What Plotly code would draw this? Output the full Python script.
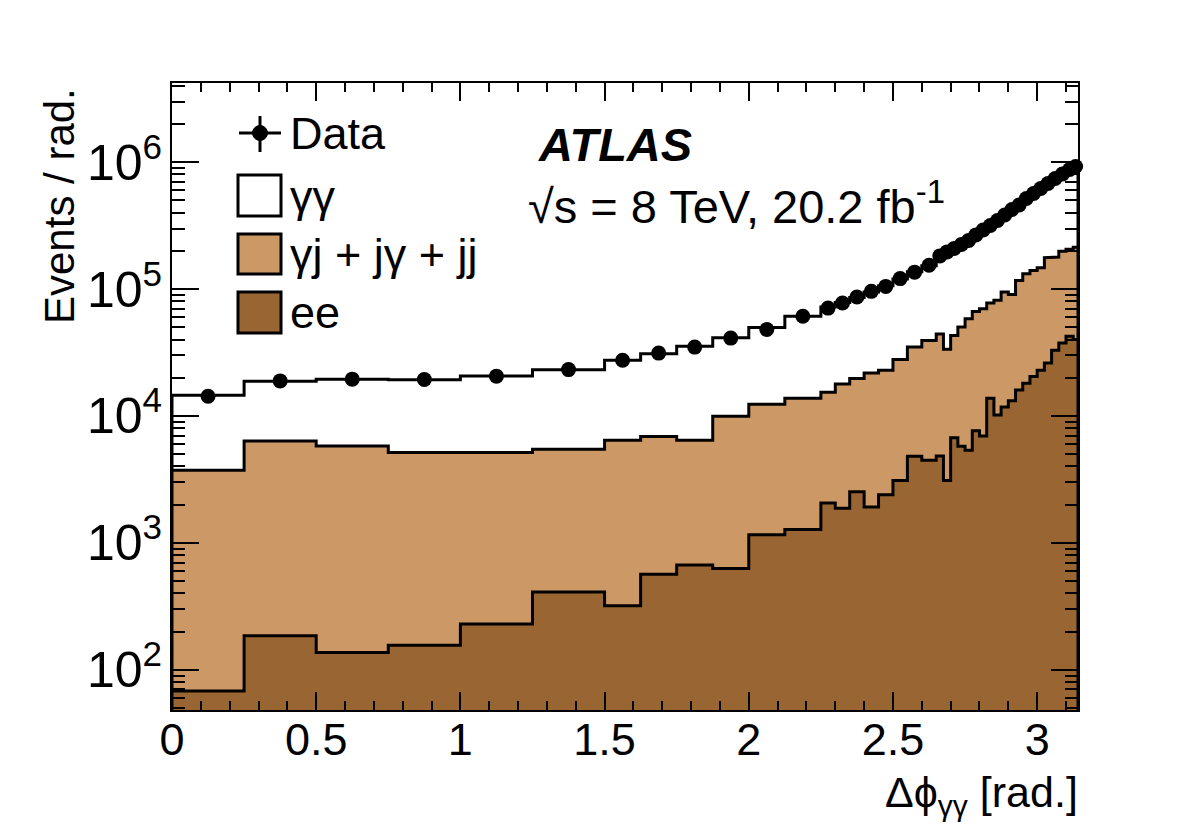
import plotly.graph_objects as go
import math

# ---------------- data ----------------
bin_edges = [0.0, 0.25, 0.5, 0.75, 1.0, 1.25, 1.5,
             1.625, 1.75, 1.875, 2.0, 2.125, 2.25,
             2.3, 2.35, 2.4, 2.45, 2.5, 2.55, 2.6, 2.65,
             2.675, 2.7, 2.725, 2.75, 2.775, 2.8, 2.825, 2.85, 2.875, 2.9,
             2.925, 2.95, 2.975, 3.0, 3.025, 3.05, 3.075, 3.1, 3.125, math.pi]

data_events = [14300, 18900, 19500, 19400, 20600, 23200,
               27500, 31300, 34900, 41100, 48000, 61000,
               70800, 77600, 86500, 96000, 105000, 121000, 136000, 154000,
               182600, 196300, 209200, 224900, 241800, 267200, 292500, 317400,
               347500, 384000, 424200, 460300, 517800, 567000, 620800, 679700,
               744100, 807400, 876100, 925000]

# stacked levels of the prediction (events / rad.)
stack_total = [14560, 18750, 19450, 19300, 20640, 23170,
               27500, 31000, 35400, 41400, 49700, 61000,
               72100, 78500, 86000, 95000, 106000, 120000, 137000, 153000,
               180000, 197000, 210000, 226000, 243000, 266000, 291000, 318000,
               348000, 382000, 425000, 462000, 515000, 569000, 622000, 678000,
               742000, 810000, 872000, 915000]

stack_jets_plus_ee = [3736, 6355, 5800, 5150, 5150, 5480,
                      6440, 6900, 6440, 9950, 12370, 13800,
                      15400, 17900, 19700, 21800, 22900, 27900, 34900, 39400,
                      44300, 33600, 43100, 50200, 58500, 66700, 70100, 77600,
                      81500, 94700, 90800, 117000, 132000, 140000, 147000, 176500,
                      178600, 199000, 205600, 214000]

ee_events = [68, 185, 137, 156, 229, 411,
             320, 565, 670, 628, 1157, 1277,
             2066, 1877, 2523, 1920, 2400, 3100, 4820, 4480,
             4830, 3100, 6730, 5770, 5370, 7660, 6940, 13800,
             10180, 11780, 13200, 16000, 18100, 20500, 22900, 26100,
             32900, 37600, 42400, 40000]

legend_labels = ["Data", "γγ", "γj + jγ + jj", "ee"]

# ---------------- styling ----------------
TAN = "#cc9966"
BROWN = "#996633"
FONT = "Liberation Sans, Arial, Helvetica, sans-serif"
FS = 45      # horizontal texts
FS_V = 42    # rotated y title
FS_Y = 40    # y tick labels (10^n)

W, H = 1182, 830
L, R, T, B = 172, 1078, 83, 710


def px(x):
    return (x - L) / (R - L)


def py(y):
    return (B - y) / (B - T)


def step_polygon(edges, vals, base=1.0):
    xs, ys = [edges[0]], [base]
    for i, v in enumerate(vals):
        xs += [edges[i], edges[i + 1]]
        ys += [v, v]
    xs.append(edges[-1])
    ys.append(base)
    return xs, ys


fig = go.Figure()

for vals, col in [(stack_total, "white"), (stack_jets_plus_ee, TAN), (ee_events, BROWN)]:
    xs, ys = step_polygon(bin_edges, vals)
    fig.add_trace(go.Scatter(x=xs, y=ys, mode="lines", fill="toself",
                             fillcolor=col, line=dict(color="black", width=3),
                             hoverinfo="skip", showlegend=False))

centers = [(bin_edges[i] + bin_edges[i + 1]) / 2 for i in range(len(data_events))]
fig.add_trace(go.Scatter(x=centers, y=data_events, mode="markers",
                         marker=dict(color="black", size=15),
                         showlegend=False, cliponaxis=False))

axis_common = dict(showline=True, linecolor="black", linewidth=2, mirror="allticks",
                   ticks="inside", tickcolor="black", tickwidth=2,
                   showgrid=False, zeroline=False)

fig.update_xaxes(range=[0, math.pi], dtick=0.5, tick0=0, ticklen=18,
                 minor=dict(ticks="inside", ticklen=9, dtick=0.1, tick0=0,
                            tickcolor="black", tickwidth=2),
                 ticklabelstandoff=-11,
                 tickfont=dict(family=FONT, size=FS, color="black"),
                 **axis_common)
fig.update_yaxes(type="log", range=[1.683, 6.624], dtick=1, ticklen=27,
                 exponentformat="power", showexponent="all",
                 minor=dict(ticks="inside", ticklen=13, dtick="D1",
                            tickcolor="black", tickwidth=2),
                 ticklabelstandoff=0,
                 tickfont=dict(family=FONT, size=FS_Y, color="black"),
                 **axis_common)

shapes = []
# legend: data marker with cross
shapes.append(dict(type="line", xref="paper", yref="paper",
                   x0=px(239), x1=px(281), y0=py(133), y1=py(133),
                   line=dict(color="black", width=3)))
shapes.append(dict(type="line", xref="paper", yref="paper",
                   x0=px(260), x1=px(260), y0=py(116), y1=py(152),
                   line=dict(color="black", width=3)))
shapes.append(dict(type="circle", xref="paper", yref="paper",
                   x0=px(252.5), x1=px(267.5), y0=py(125.5), y1=py(140.5),
                   fillcolor="black", line=dict(color="black", width=1)))
for (y0, y1), col in [((175, 216), "white"), ((234, 274), TAN), ((292, 333), BROWN)]:
    shapes.append(dict(type="rect", xref="paper", yref="paper",
                       x0=px(238), x1=px(281), y0=py(y1), y1=py(y0),
                       fillcolor=col, line=dict(color="black", width=3)))

annotations = []
for lab, yc in zip(legend_labels, [133, 196, 254, 312]):
    annotations.append(dict(text=lab, xref="paper", yref="paper",
                            x=px(288), y=py(yc), xanchor="left", yanchor="middle",
                            showarrow=False, font=dict(family=FONT, size=FS, color="black")))

annotations.append(dict(text="<b><i>ATLAS</i></b>", xref="paper", yref="paper",
                        x=px(536), y=py(144), xanchor="left", yanchor="middle",
                        showarrow=False, font=dict(family=FONT, size=FS + 2, color="black")))
annotations.append(dict(text="√s = 8 TeV, 20.2 fb<sup>-1</sup>", xref="paper", yref="paper",
                        x=px(526), y=py(203), xanchor="left", yanchor="middle",
                        showarrow=False, font=dict(family=FONT, size=FS + 2, color="black")))
annotations.append(dict(text="Events / rad.", xref="paper", yref="paper",
                        x=px(59), y=py(86), xanchor="center", yanchor="top",
                        textangle=-90, showarrow=False,
                        font=dict(family=FONT, size=FS_V, color="black")))
annotations.append(dict(text="Δϕ<sub>γγ</sub> [rad.]", xref="paper", yref="paper",
                        x=px(1080), y=py(795), xanchor="right", yanchor="middle",
                        showarrow=False, font=dict(family=FONT, size=FS_V + 1, color="black")))

fig.update_layout(width=W, height=H,
                  margin=dict(l=L, r=W - R, t=T, b=H - B),
                  paper_bgcolor="white", plot_bgcolor="white",
                  shapes=shapes, annotations=annotations, showlegend=False,
                  font=dict(family=FONT, size=FS, color="black"))

fig.write_html("out.html")
